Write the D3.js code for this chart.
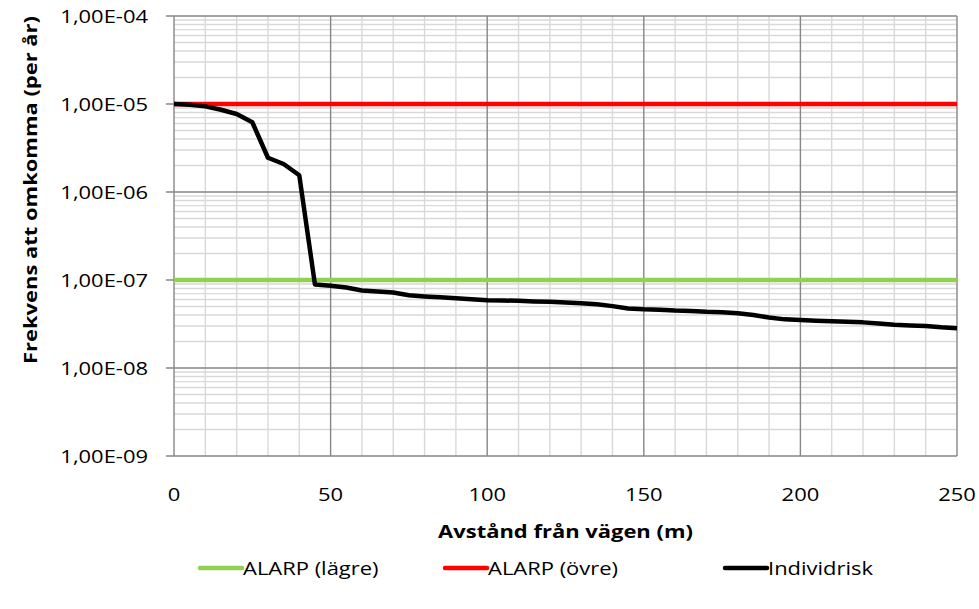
<!DOCTYPE html>
<html>
<head>
<meta charset="utf-8">
<script src="https://cdn.jsdelivr.net/npm/d3@7"></script>
<style>
  body { margin: 0; background: #fff; }
  text { font-family: "Open Sans", sans-serif; fill: #000; }
</style>
</head>
<body>
<div id="chart"></div>
<script>
// distance from the road (m)
var distance = [0, 5, 10, 15, 20, 25, 30, 35, 40, 45, 50, 55, 60, 65, 70, 75, 80, 85, 90, 95,
    100, 105, 110, 115, 120, 125, 130, 135, 140, 145, 150, 155, 160, 165, 170, 175, 180, 185, 190, 195,
    200, 205, 210, 215, 220, 225, 230, 235, 240, 245, 250];

// individual risk (per year)
var individrisk = [1.0e-5, 9.8e-6, 9.4e-6, 8.6e-6, 7.7e-6, 6.2e-6, 2.45e-6, 2.08e-6, 1.55e-6, 8.9e-8,
    8.6e-8, 8.2e-8, 7.6e-8, 7.4e-8, 7.2e-8, 6.7e-8, 6.5e-8, 6.35e-8, 6.2e-8, 6.05e-8,
    5.9e-8, 5.85e-8, 5.8e-8, 5.7e-8, 5.65e-8, 5.55e-8, 5.45e-8, 5.3e-8, 5.05e-8, 4.75e-8,
    4.65e-8, 4.6e-8, 4.5e-8, 4.45e-8, 4.35e-8, 4.3e-8, 4.2e-8, 4.0e-8, 3.75e-8, 3.57e-8,
    3.5e-8, 3.45e-8, 3.4e-8, 3.35e-8, 3.3e-8, 3.2e-8, 3.1e-8, 3.05e-8, 3.0e-8, 2.9e-8, 2.83e-8];

var alarpLower = 1e-7;
var alarpUpper = 1e-5;

var xTicks = [0, 50, 100, 150, 200, 250];
var yTicks = [1e-9, 1e-8, 1e-7, 1e-6, 1e-5, 1e-4];

var legendNames = ["ALARP (lägre)", "ALARP (övre)", "Individrisk"];
var legendColors = ["#92d050", "#ff0000", "#000000"];

var width = 979, height = 609;
var margin = {left: 174, right: 22, top: 16, bottom: 153};
var sx = 1.22; // text is drawn a bit wider than the font
var fontSize = 18;

var svg = d3.select("#chart").append("svg")
    .attr("width", width)
    .attr("height", height);

var x = d3.scaleLinear()
    .domain([0, 250])
    .range([margin.left, width - margin.right]);

var y = d3.scaleLog()
    .domain([1e-9, 1e-4])
    .range([height - margin.bottom, margin.top]);

function label(g, px, py, txt, anchor, bold) {
    return g.append("text")
        .attr("transform", "translate(" + px + "," + py + ") scale(" + sx + ",1)")
        .attr("text-anchor", anchor)
        .style("font-size", fontSize + "px")
        .style("font-weight", bold ? "bold" : "normal")
        .text(txt);
}

function sci(v) {
    var e = Math.round(Math.log10(v));
    return "1,00E" + (e < 0 ? "-" : "+") + String(Math.abs(e)).padStart(2, "0");
}

// minor grid
var minorX = d3.range(0, 251, 10).filter(function (d) { return d % 50 !== 0; });
var minorY = [];
yTicks.slice(0, -1).forEach(function (t) {
    for (var k = 2; k <= 9; k++) minorY.push(t * k);
});

var grid = svg.append("g");
grid.selectAll(".mx").data(minorX).enter().append("line")
    .attr("x1", d => x(d)).attr("x2", d => x(d))
    .attr("y1", y(1e-4)).attr("y2", y(1e-9))
    .style("stroke", "#d9d9d9").style("stroke-width", 1.4);
grid.selectAll(".my").data(minorY).enter().append("line")
    .attr("x1", x(0)).attr("x2", x(250))
    .attr("y1", d => y(d)).attr("y2", d => y(d))
    .style("stroke", "#d9d9d9").style("stroke-width", 1.4);

// major grid
grid.selectAll(".Mx").data(xTicks).enter().append("line")
    .attr("x1", d => x(d)).attr("x2", d => x(d))
    .attr("y1", y(1e-4)).attr("y2", y(1e-9))
    .style("stroke", "#868686").style("stroke-width", 1.4);
grid.selectAll(".My").data(yTicks).enter().append("line")
    .attr("x1", x(0) - 8).attr("x2", x(250))
    .attr("y1", d => y(d)).attr("y2", d => y(d))
    .style("stroke", "#868686").style("stroke-width", 1.4);

// tick labels
var axes = svg.append("g");
yTicks.forEach(function (t) {
    label(axes, 148, y(t) + 6.5, sci(t), "end");
});
xTicks.forEach(function (t) {
    label(axes, x(t), 500.5, String(t), "middle");
});

// axis titles
label(axes, x(125), 538, "Avstånd från vägen (m)", "middle", true);
axes.append("text")
    .attr("transform", "translate(37," + ((y(1e-4) + y(1e-9)) / 2 - 46) + ") rotate(-90) scale(" + sx + ",1)")
    .attr("text-anchor", "middle")
    .style("font-size", fontSize + "px")
    .style("font-weight", "bold")
    .text("Frekvens att omkomma (per år)");

// series
var line = d3.line()
    .x(d => x(d[0]))
    .y(d => y(d[1]));

var plot = svg.append("g");
plot.append("path")
    .datum([[distance[0], alarpLower], [distance[distance.length - 1], alarpLower]])
    .attr("d", line)
    .style("fill", "none").style("stroke", legendColors[0]).style("stroke-width", 4.5);
plot.append("path")
    .datum([[distance[0], alarpUpper], [distance[distance.length - 1], alarpUpper]])
    .attr("d", line)
    .style("fill", "none").style("stroke", legendColors[1]).style("stroke-width", 4.5);
plot.append("path")
    .datum(distance.map((d, i) => [d, individrisk[i]]))
    .attr("d", line)
    .style("fill", "none").style("stroke", legendColors[2]).style("stroke-width", 4.5)
    .style("stroke-linejoin", "round");

// legend
var legendX = [200, 445, 725];
var legend = svg.selectAll(".legend").data(legendNames).enter().append("g")
    .attr("transform", (d, i) => "translate(" + legendX[i] + ",568)");
legend.append("line")
    .attr("x1", 0).attr("x2", 42)
    .style("stroke", (d, i) => legendColors[i])
    .style("stroke-width", 4.5)
    .style("stroke-linecap", "round");
legend.each(function (d) {
    label(d3.select(this), 43, 6.5, d, "start");
});
</script>
</body>
</html>
